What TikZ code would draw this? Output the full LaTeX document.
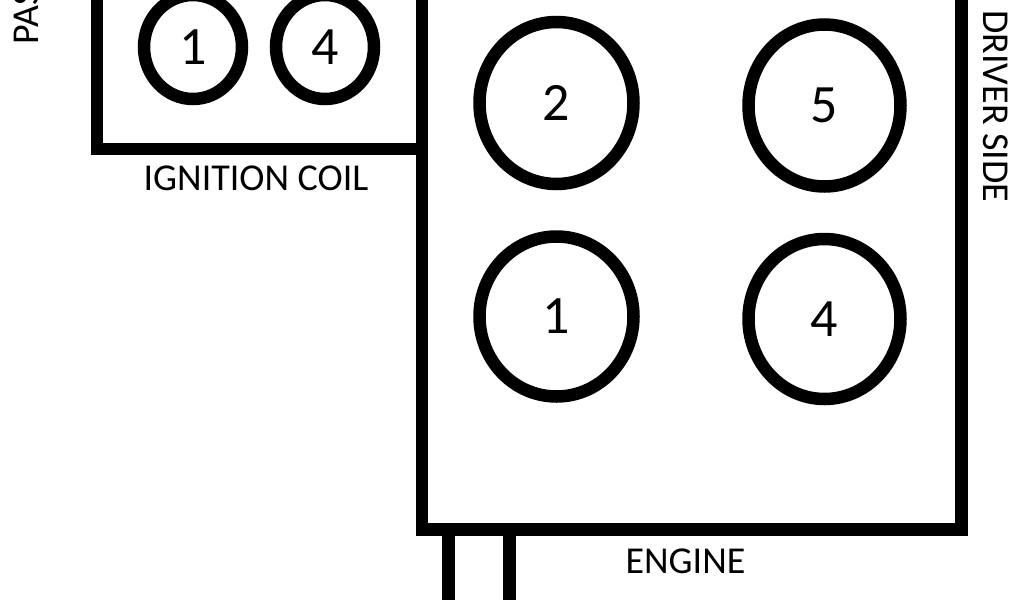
\documentclass[tikz,border=0pt]{standalone}
\usepackage{fontspec}
\setmainfont{Carlito}
\usetikzlibrary{shapes.geometric}
\tikzset{
  wire/.style={line width=6.25pt, black, miter limit=10},
  plug/.style={ellipse, draw=black, line width=6.25pt, inner sep=0pt,
    font=\fontsize{27pt}{30pt}\selectfont, text=black},
  lbl/.style={inner sep=0pt, font=\fontsize{19pt}{22pt}\selectfont, text=black}
}
\begin{document}
\begin{tikzpicture}[x=0.5pt,y=-0.5pt]
\useasboundingbox (0,0) rectangle (1024,600);
\clip (0,0) rectangle (1024,600);
\fill[white] (0,0) rectangle (1024,600);
% ignition coil housing
\draw[wire] (97,-30) -- (97,149) -- (422,149);
% engine block
\draw[wire] (422,-30) -- (422,529.5) -- (961.5,529.5) -- (961.5,-30);
% legs below the engine
\draw[wire] (448.5,529.5) -- (448.5,630);
\draw[wire] (509.5,529.5) -- (509.5,630);
% coil plugs
\node[plug, minimum width=49pt, minimum height=52pt] (c1) at (193,47) {1};
\node[plug, minimum width=49pt, minimum height=52pt] (c4) at (325,47) {4};
% engine cylinders
\node[plug, minimum width=77pt, minimum height=81pt] (e2) at (556.5,103) {2};
\node[plug, minimum width=76pt, minimum height=81pt] (e5) at (824.5,105.5) {5};
\node[plug, minimum width=77pt, minimum height=80pt] (e1) at (556.5,316.5) {1};
\node[plug, minimum width=76pt, minimum height=80pt] (e4) at (824.5,319) {4};
% labels
\node[lbl, anchor=base] (coil) at (256,190) {IGNITION COIL};
\node[lbl, anchor=base] (eng) at (685.5,573) {ENGINE};
\node[lbl, anchor=base west, rotate=-90] (drv) at (983,10) {DRIVER SIDE};
\node[lbl, anchor=base west, rotate=90] (pas) at (39,45) {PASSENGER SIDE};
\end{tikzpicture}
\end{document}
